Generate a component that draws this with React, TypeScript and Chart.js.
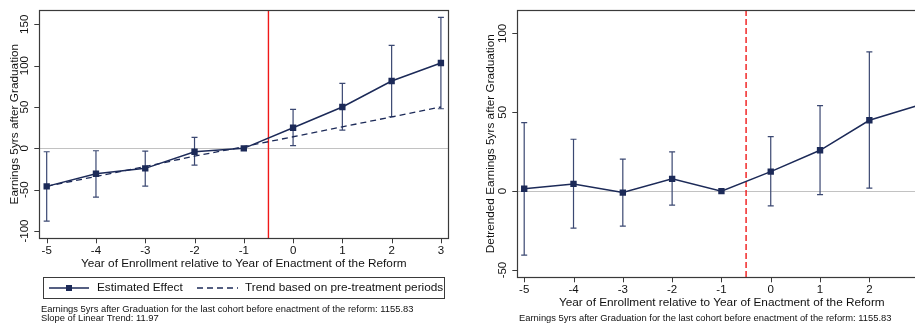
import React, { useEffect, useRef } from "react";
import { Chart, registerables } from "chart.js";

Chart.register(...registerables);

// ---------- data ----------
const years = [-5, -4, -3, -2, -1, 0, 1, 2, 3];
const estEffect = [-46, -30.7, -24.2, -4.1, 0, 24.9, 50, 81.4, 103.2];
const estLow = [-88, -58.9, -45.6, -20.2, null, 3.2, 22.1, 38.2, 47.9];
const estHigh = [-4.1, -2.9, -3.3, 13.3, null, 47.2, 78.6, 124.6, 158.5];
const trendLine = [-46, -34, -22, -9.5, 2, 14, 26, 38, 50];

const detrended = [1.5, 4.6, -0.9, 7.8, 0, 12.4, 25.9, 44.9, 54.4];
const detLow = [-40.5, -23.4, -22.2, -8.9, null, -9.3, -2.2, 1.9, -1];
const detHigh = [43.4, 32.9, 20.3, 24.9, null, 34.6, 54.2, 88.2, 110];

const xTicks = [-5, -4, -3, -2, -1, 0, 1, 2, 3];
const yTicksLeft = [-100, -50, 0, 50, 100, 150];
const yTicksRight = [-50, 0, 50, 100];
const treatmentLine = -0.5;

const xTitle = "Year of Enrollment relative to Year of Enactment of the Reform";
const yTitleLeft = "Earnings 5yrs after Graduation";
const yTitleRight = "Detrended Earnings 5yrs after Graduation";
const legendLabels = ["Estimated Effect", "Trend based on pre-treatment periods"];
const noteCohort =
  "Earnings 5yrs after Graduation for the last cohort before enactment of the reform: 1155.83";
const noteSlope = "Slope of Linear Trend: 11.97";

// ---------- styles ----------
const NAVY = "#1c2a58";
const CI_COLOR = "#3b4872";
const FRAME = "#3a3a3a";
const FONT = "'Liberation Sans', Arial, Helvetica, sans-serif";

type Panel = {
  width: number;
  height: number;
  padding: { left: number; top: number; right: number; bottom: number };
  xMin: number;
  xMax: number;
  yMin: number;
  yMax: number;
  yTicks: number[];
  values: number[];
  low: (number | null)[];
  high: (number | null)[];
  trend: number[] | null;
  yTitle: string;
  yTickLabelX: number;
  yTitleX: number;
  vDash: number[];
  notes: { text: string; x: number; y: number }[];
  legend: boolean;
};

function makePlugin(p: Panel) {
  return {
    id: "stataPanel",
    beforeDatasetsDraw(chart: any) {
      const { ctx, chartArea: a, scales } = chart;
      const x = scales.x;
      const y = scales.y;
      ctx.save();
      // zero reference line
      const y0 = Math.round(y.getPixelForValue(0)) + 0.5;
      ctx.strokeStyle = "#c2c2c2";
      ctx.lineWidth = 1;
      ctx.beginPath();
      ctx.moveTo(a.left, y0);
      ctx.lineTo(a.right, y0);
      ctx.stroke();
      // treatment line
      const xv = x.getPixelForValue(treatmentLine);
      ctx.strokeStyle = "#f01818";
      ctx.lineWidth = 1.4;
      ctx.setLineDash(p.vDash);
      ctx.beginPath();
      ctx.moveTo(xv, a.top);
      ctx.lineTo(xv, a.bottom);
      ctx.stroke();
      ctx.setLineDash([]);
      // confidence intervals
      ctx.strokeStyle = CI_COLOR;
      ctx.lineWidth = 1.2;
      years.forEach((yr, i) => {
        const lo = p.low[i];
        const hi = p.high[i];
        if (lo == null || hi == null) return;
        const px = x.getPixelForValue(yr);
        const pl = y.getPixelForValue(lo);
        const ph = y.getPixelForValue(hi);
        ctx.beginPath();
        ctx.moveTo(px, pl);
        ctx.lineTo(px, ph);
        ctx.moveTo(px - 3, pl);
        ctx.lineTo(px + 3, pl);
        ctx.moveTo(px - 3, ph);
        ctx.lineTo(px + 3, ph);
        ctx.stroke();
      });
      ctx.restore();
    },
    afterDraw(chart: any) {
      const { ctx, chartArea: a, scales } = chart;
      const x = scales.x;
      const y = scales.y;
      ctx.save();
      // frame
      ctx.strokeStyle = FRAME;
      ctx.lineWidth = 1.2;
      ctx.strokeRect(Math.round(a.left) + 0.5, Math.round(a.top) + 0.5,
        Math.round(a.right - a.left), Math.round(a.bottom - a.top));
      // tick marks
      ctx.lineWidth = 1;
      ctx.strokeStyle = FRAME;
      ctx.beginPath();
      xTicks.forEach((t) => {
        const px = Math.round(x.getPixelForValue(t)) + 0.5;
        ctx.moveTo(px, a.bottom);
        ctx.lineTo(px, a.bottom + 5);
      });
      p.yTicks.forEach((t) => {
        const py = Math.round(y.getPixelForValue(t)) + 0.5;
        ctx.moveTo(a.left, py);
        ctx.lineTo(a.left - 5, py);
      });
      ctx.stroke();
      // tick labels
      ctx.fillStyle = "#111";
      ctx.font = `11.5px ${FONT}`;
      ctx.textAlign = "center";
      ctx.textBaseline = "middle";
      xTicks.forEach((t) => {
        ctx.fillText(String(t), x.getPixelForValue(t), a.bottom + 12.5);
      });
      p.yTicks.forEach((t) => {
        ctx.save();
        ctx.translate(p.yTickLabelX, y.getPixelForValue(t));
        ctx.rotate(-Math.PI / 2);
        ctx.fillText(String(t), 0, 0);
        ctx.restore();
      });
      // axis titles
      ctx.font = `11.8px ${FONT}`;
      ctx.fillText(xTitle, (a.left + a.right) / 2, a.bottom + 25.8);
      ctx.save();
      ctx.translate(p.yTitleX, (a.top + a.bottom) / 2);
      ctx.rotate(-Math.PI / 2);
      ctx.fillText(p.yTitle, 0, 0);
      ctx.restore();
      // legend
      if (p.legend) {
        ctx.strokeStyle = FRAME;
        ctx.lineWidth = 1;
        ctx.strokeRect(43.5, 277.5, 401, 21);
        const ly = 288;
        ctx.strokeStyle = NAVY;
        ctx.lineWidth = 1.5;
        ctx.beginPath();
        ctx.moveTo(49, ly);
        ctx.lineTo(89, ly);
        ctx.stroke();
        ctx.fillStyle = NAVY;
        ctx.fillRect(66, ly - 3, 6, 6);
        ctx.lineWidth = 1.3;
        ctx.setLineDash([6, 4]);
        ctx.beginPath();
        ctx.moveTo(197, ly);
        ctx.lineTo(238, ly);
        ctx.stroke();
        ctx.setLineDash([]);
        ctx.fillStyle = "#111";
        ctx.textAlign = "left";
        ctx.font = `11.8px ${FONT}`;
        ctx.fillText(legendLabels[0], 97, ly);
        ctx.fillText(legendLabels[1], 245, ly);
      }
      // notes
      ctx.fillStyle = "#111";
      ctx.textAlign = "left";
      ctx.font = `9.4px ${FONT}`;
      p.notes.forEach((n) => ctx.fillText(n.text, n.x, n.y));
      ctx.restore();
    },
  };
}

function PanelChart({ p, left }: { p: Panel; left: number }) {
  const ref = useRef<HTMLCanvasElement | null>(null);
  useEffect(() => {
    if (!ref.current) return;
    const datasets: any[] = [
      {
        label: legendLabels[0],
        data: years.map((yr, i) => ({ x: yr, y: p.values[i] })),
        borderColor: NAVY,
        backgroundColor: NAVY,
        borderWidth: 1.5,
        pointStyle: "rect",
        pointRadius: 4.5,
        pointBorderWidth: 0,
        tension: 0,
      },
    ];
    if (p.trend) {
      datasets.push({
        label: legendLabels[1],
        data: years.map((yr, i) => ({ x: yr, y: p.trend![i] })),
        borderColor: NAVY,
        borderWidth: 1.3,
        borderDash: [6, 4],
        pointRadius: 0,
        tension: 0,
      });
    }
    const chart = new Chart(ref.current, {
      type: "line",
      data: { datasets },
      options: {
        animation: false,
        responsive: false,
        devicePixelRatio: 1,
        layout: { padding: p.padding },
        plugins: { legend: { display: false }, tooltip: { enabled: false } },
        events: [],
        scales: {
          x: { type: "linear", min: p.xMin, max: p.xMax, display: false },
          y: { type: "linear", min: p.yMin, max: p.yMax, display: false },
        },
      },
      plugins: [makePlugin(p)],
    } as any);
    return () => chart.destroy();
  }, []);
  return (
    <canvas
      ref={ref}
      width={p.width}
      height={p.height}
      style={{ position: "absolute", left, top: 0, width: p.width, height: p.height }}
    />
  );
}

const leftPanel: Panel = {
  width: 460,
  height: 324,
  padding: { left: 39.3, top: 10, right: 11.7, bottom: 85.7 },
  xMin: -5.15,
  xMax: 3.15,
  yMin: -108.8,
  yMax: 167.3,
  yTicks: yTicksLeft,
  values: estEffect,
  low: estLow,
  high: estHigh,
  trend: trendLine,
  yTitle: yTitleLeft,
  yTickLabelX: 25,
  yTitleX: 14.7,
  vDash: [],
  notes: [
    { text: noteCohort, x: 41, y: 309.5 },
    { text: noteSlope, x: 41, y: 318.5 },
  ],
  legend: true,
};

const rightPanel: Panel = {
  width: 480,
  height: 324,
  padding: { left: 57.3, top: 10, right: 13.7, bottom: 46.7 },
  xMin: -5.14,
  xMax: 3.155,
  yMin: -54.6,
  yMax: 114.8,
  yTicks: yTicksRight,
  values: detrended,
  low: detLow,
  high: detHigh,
  trend: null,
  yTitle: yTitleRight,
  yTickLabelX: 43.3,
  yTitleX: 30.7,
  vDash: [6, 3],
  notes: [{ text: noteCohort, x: 59, y: 318.5 }],
  legend: false,
};

export default function App() {
  return (
    <div
      style={{
        position: "absolute",
        left: 0,
        top: 0,
        width: 915,
        height: 324,
        overflow: "hidden",
        background: "#fff",
      }}
    >
      <PanelChart p={leftPanel} left={0} />
      <PanelChart p={rightPanel} left={460} />
    </div>
  );
}
